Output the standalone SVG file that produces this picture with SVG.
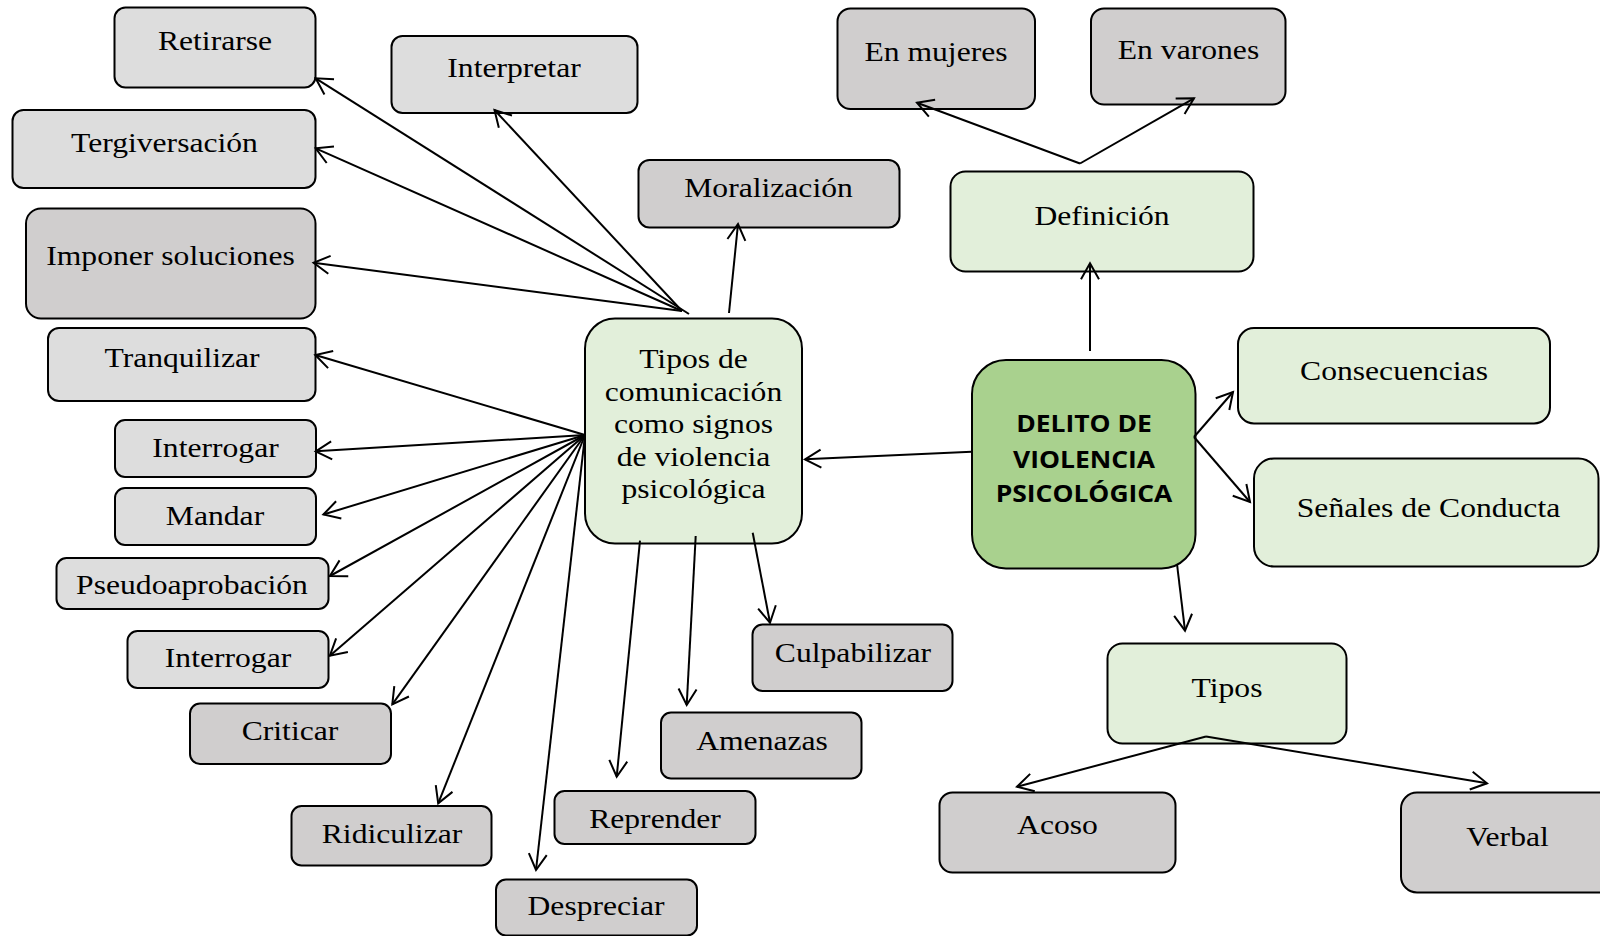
<svg xmlns="http://www.w3.org/2000/svg" width="1600" height="936" viewBox="0 0 1600 936">
<defs>
<style>
.n rect{stroke:#000;stroke-width:2}
.lg{fill:#dddddd}
.dg{fill:#d0cece}
.gr{fill:#e2efda}
.mg{fill:#a9d18e}
.t{font-family:"Liberation Serif","Times New Roman",serif;font-size:28px;fill:#000;text-anchor:middle}
.b{font-family:"Open Sans","Liberation Sans",sans-serif;font-weight:700;font-size:23px;fill:#000;text-anchor:middle}
#connectors line{stroke:#000;stroke-width:2;fill:none;marker-end:url(#arr)}
</style>
<marker id="arr" markerUnits="userSpaceOnUse" markerWidth="40" markerHeight="40" viewBox="-20 -20 40 40" refX="0" refY="0" orient="auto">
<path d="M-16,-9 L0,0 L-16,9" fill="none" stroke="#000" stroke-width="2"/>
</marker>
</defs>
<rect width="1600" height="936" fill="#fff"/>

<g id="n-retirarse" class="n"><rect class="lg" x="114.5" y="7.5" width="201" height="80" rx="11"/><text class="t" transform="translate(215,50) scale(1.13,1)">Retirarse</text></g>
<g id="n-interpretar" class="n"><rect class="lg" x="391.5" y="36" width="246" height="77" rx="11"/><text class="t" transform="translate(514,77) scale(1.13,1)">Interpretar</text></g>
<g id="n-tergiversacion" class="n"><rect class="lg" x="12.5" y="110" width="303" height="78" rx="11"/><text class="t" transform="translate(164.5,151.5) scale(1.13,1)">Tergiversación</text></g>
<g id="n-imponer" class="n"><rect class="dg" x="26" y="208.5" width="289.5" height="110" rx="15"/><text class="t" transform="translate(170.5,265) scale(1.13,1)">Imponer soluciones</text></g>
<g id="n-moralizacion" class="n"><rect class="dg" x="638.5" y="160" width="261" height="67.5" rx="11"/><text class="t" transform="translate(768.5,197) scale(1.13,1)">Moralización</text></g>
<g id="n-tranquilizar" class="n"><rect class="lg" x="48" y="328" width="267.5" height="73" rx="11"/><text class="t" transform="translate(182,367) scale(1.13,1)">Tranquilizar</text></g>
<g id="n-interrogar1" class="n"><rect class="lg" x="115" y="420" width="201" height="57" rx="10"/><text class="t" transform="translate(215.5,457) scale(1.13,1)">Interrogar</text></g>
<g id="n-mandar" class="n"><rect class="lg" x="115" y="488" width="201" height="57" rx="10"/><text class="t" transform="translate(215,524.5) scale(1.13,1)">Mandar</text></g>
<g id="n-pseudoaprobacion" class="n"><rect class="lg" x="56.5" y="558" width="272" height="51" rx="10"/><text class="t" transform="translate(192,594) scale(1.13,1)">Pseudoaprobación</text></g>
<g id="n-interrogar2" class="n"><rect class="lg" x="127.5" y="631" width="201" height="57" rx="10"/><text class="t" transform="translate(228,667) scale(1.13,1)">Interrogar</text></g>
<g id="n-criticar" class="n"><rect class="dg" x="190" y="703.5" width="201" height="60.5" rx="10"/><text class="t" transform="translate(290,740) scale(1.13,1)">Criticar</text></g>
<g id="n-ridiculizar" class="n"><rect class="dg" x="291.5" y="806" width="200" height="59.5" rx="10"/><text class="t" transform="translate(392,842.5) scale(1.13,1)">Ridiculizar</text></g>
<g id="n-despreciar" class="n"><rect class="dg" x="496" y="879.5" width="201" height="56" rx="10"/><text class="t" transform="translate(596,915) scale(1.13,1)">Despreciar</text></g>
<g id="n-reprender" class="n"><rect class="dg" x="554.5" y="791" width="201" height="53" rx="10"/><text class="t" transform="translate(655,827.5) scale(1.13,1)">Reprender</text></g>
<g id="n-amenazas" class="n"><rect class="dg" x="661" y="712.5" width="200.5" height="66" rx="10"/><text class="t" transform="translate(762,749.5) scale(1.13,1)">Amenazas</text></g>
<g id="n-culpabilizar" class="n"><rect class="dg" x="752.5" y="624.5" width="200" height="66.5" rx="10"/><text class="t" transform="translate(853,661.5) scale(1.13,1)">Culpabilizar</text></g>

<g id="n-tipos-comunicacion" class="n"><rect class="gr" x="585" y="318.5" width="217" height="225" rx="30"/>
<text class="t" transform="translate(693.5,368) scale(1.13,1)">Tipos de</text>
<text class="t" transform="translate(693.5,400.5) scale(1.13,1)">comunicación</text>
<text class="t" transform="translate(693.5,433) scale(1.13,1)">como signos</text>
<text class="t" transform="translate(693.5,465.5) scale(1.13,1)">de violencia</text>
<text class="t" transform="translate(693.5,498) scale(1.13,1)">psicológica</text></g>

<g id="n-delito" class="n"><rect class="mg" x="972" y="360" width="223.5" height="208.5" rx="34"/>
<text class="b" transform="translate(1084,431.5) scale(1.15,1)">DELITO DE</text>
<text class="b" transform="translate(1084,468) scale(1.15,1)">VIOLENCIA</text>
<text class="b" transform="translate(1084,501.5) scale(1.15,1)">PSICOLÓGICA</text></g>

<g id="n-definicion" class="n"><rect class="gr" x="950.5" y="171.5" width="303" height="100" rx="15"/><text class="t" transform="translate(1102,225) scale(1.13,1)">Definición</text></g>
<g id="n-mujeres" class="n"><rect class="dg" x="837.5" y="8.5" width="197.5" height="100.5" rx="13"/><text class="t" transform="translate(936,61) scale(1.13,1)">En mujeres</text></g>
<g id="n-varones" class="n"><rect class="dg" x="1091" y="8.5" width="194.5" height="96" rx="13"/><text class="t" transform="translate(1188.5,59) scale(1.13,1)">En varones</text></g>
<g id="n-consecuencias" class="n"><rect class="gr" x="1238" y="328" width="312" height="95.5" rx="16"/><text class="t" transform="translate(1394,380) scale(1.13,1)">Consecuencias</text></g>
<g id="n-senales" class="n"><rect class="gr" x="1254" y="458.5" width="344.5" height="108" rx="20"/><text class="t" transform="translate(1428.5,517) scale(1.13,1)">Señales de Conducta</text></g>
<g id="n-tipos" class="n"><rect class="gr" x="1107.5" y="643.5" width="239" height="100" rx="15"/><text class="t" transform="translate(1227,696.5) scale(1.13,1)">Tipos</text></g>
<g id="n-acoso" class="n"><rect class="dg" x="939.5" y="792.5" width="236" height="80" rx="13"/><text class="t" transform="translate(1057.5,834) scale(1.13,1)">Acoso</text></g>
<g id="n-verbal" class="n"><rect class="dg" x="1401" y="792.5" width="220" height="100" rx="16"/><text class="t" transform="translate(1507.5,846) scale(1.13,1)">Verbal</text></g>

<g id="connectors">
<line x1="689" y1="314" x2="315.7" y2="78.3"/>
<line x1="682" y1="311" x2="315.7" y2="148.3"/>
<line x1="682" y1="311" x2="313.6" y2="262.7"/>
<line x1="682" y1="311" x2="494.5" y2="110"/>
<line x1="729" y1="313" x2="738" y2="224"/>
<line x1="585" y1="435" x2="315.3" y2="355"/>
<line x1="585" y1="435" x2="315.7" y2="451.3"/>
<line x1="585" y1="435" x2="323.4" y2="514.5"/>
<line x1="585" y1="435" x2="329.9" y2="576"/>
<line x1="585" y1="435" x2="329.9" y2="655.7"/>
<line x1="585" y1="435" x2="392.3" y2="704.3"/>
<line x1="585" y1="435" x2="438.2" y2="803.4"/>
<line x1="585" y1="435" x2="536" y2="870"/>
<line x1="640" y1="540.7" x2="616.7" y2="776.7"/>
<line x1="695.7" y1="536" x2="686.7" y2="705"/>
<line x1="752.7" y1="532.7" x2="770" y2="622.7"/>
<line x1="971.6" y1="451.7" x2="805" y2="459.3"/>
<line x1="1090" y1="351" x2="1090" y2="263.3"/>
<line x1="1080" y1="163.5" x2="917" y2="102.7"/>
<line x1="1080" y1="163.5" x2="1194" y2="98.3"/>
<line x1="1194" y1="437" x2="1233" y2="392"/>
<line x1="1194" y1="437" x2="1250" y2="502"/>
<line x1="1177" y1="564" x2="1185" y2="630.7"/>
<line x1="1206" y1="736.5" x2="1017" y2="786.7"/>
<line x1="1206" y1="736.5" x2="1487" y2="783.3"/>
</g>
</svg>
